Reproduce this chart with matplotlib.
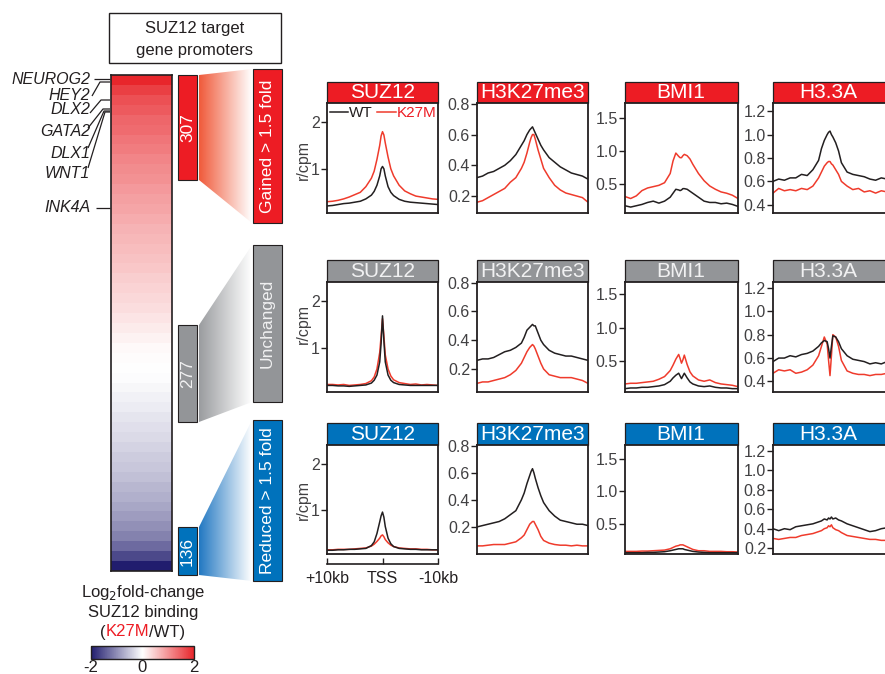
import numpy as np
import matplotlib
matplotlib.use('Agg')
import matplotlib.pyplot as plt
from matplotlib.colors import LinearSegmentedColormap, to_rgb
from matplotlib.patches import Rectangle, Polygon
from matplotlib.ticker import FormatStrFormatter

plt.rcParams['font.family'] = ['Liberation Sans', 'DejaVu Sans']

# ---------------- data ----------------
heat_log2fc = [2.0, 1.75, 1.6, 1.5, 1.4, 1.35, 1.25, 1.2, 1.12, 1.05,
               1.0, 0.93, 0.87, 0.82, 0.76, 0.70, 0.65, 0.60, 0.55, 0.50,
               0.45, 0.40, 0.35, 0.30, 0.24, 0.18, 0.12, 0.06, 0.02, 0.0,
               -0.03, -0.07, -0.12, -0.17, -0.22, -0.27, -0.32, -0.38, -0.44, -0.50,
               -0.56, -0.63, -0.70, -0.78, -0.87, -0.97, -1.1, -1.3, -1.6, -2.0]
genes = ['NEUROG2', 'HEY2', 'DLX2', 'GATA2', 'DLX1', 'WNT1', 'INK4A']
group_labels = ['Gained >1.5 fold', 'Unchanged', 'Reduced >1.5 fold']
group_counts = [307, 277, 136]
factors = ['SUZ12', 'H3K27me3', 'BMI1', 'H3.3A']
series_names = ['WT', 'K27M']

dist_kb = [10, 9, 8, 7, 6, 5, 4, 3, 2, 1.5, 1, 0.5, 0.25, 0, -0.25, -0.5, -1, -1.5, -2,
           -3, -4, -5, -6, -7, -8, -9, -10]

gained_suz12_wt = [0.21,0.22,0.24,0.26,0.27,0.29,0.31,0.36,0.44,0.52,0.65,0.85,1.0,1.05,1.0,0.85,0.62,0.5,0.43,0.35,0.31,0.29,0.28,0.27,0.26,0.25,0.24]
gained_suz12_k27m = [0.30,0.31,0.33,0.36,0.40,0.45,0.50,0.62,0.80,0.95,1.2,1.5,1.7,1.79,1.72,1.55,1.25,1.0,0.85,0.65,0.53,0.47,0.42,0.40,0.38,0.36,0.35]
gained_h3k27me3_wt = [0.32,0.33,0.35,0.36,0.38,0.40,0.43,0.47,0.53,0.56,0.60,0.63,0.64,0.65,0.63,0.61,0.57,0.53,0.50,0.45,0.42,0.39,0.37,0.35,0.34,0.33,0.31]
gained_h3k27me3_k27m = [0.16,0.17,0.19,0.21,0.23,0.25,0.29,0.32,0.38,0.42,0.48,0.55,0.58,0.60,0.60,0.57,0.50,0.44,0.38,0.32,0.27,0.24,0.22,0.21,0.20,0.19,0.16]
gained_bmi1_wt = [0.17,0.15,0.17,0.19,0.22,0.24,0.21,0.24,0.30,0.36,0.42,0.41,0.40,0.41,0.43,0.43,0.42,0.39,0.36,0.30,0.24,0.22,0.22,0.20,0.21,0.19,0.16]
gained_bmi1_k27m = [0.31,0.28,0.32,0.40,0.44,0.46,0.48,0.52,0.66,0.85,0.97,0.92,0.90,0.90,0.93,0.95,0.93,0.88,0.80,0.66,0.55,0.47,0.42,0.38,0.36,0.33,0.28]
gained_h33a_wt = [0.60,0.62,0.61,0.63,0.63,0.66,0.65,0.70,0.78,0.88,0.95,1.0,1.02,1.03,1.0,0.98,0.93,0.86,0.76,0.68,0.66,0.65,0.64,0.62,0.61,0.63,0.62]
gained_h33a_k27m = [0.50,0.54,0.52,0.53,0.52,0.54,0.53,0.56,0.63,0.68,0.73,0.76,0.77,0.77,0.75,0.74,0.70,0.66,0.60,0.56,0.53,0.54,0.51,0.52,0.50,0.52,0.51]

unchanged_suz12_wt = [0.20,0.20,0.19,0.19,0.18,0.19,0.20,0.21,0.25,0.31,0.42,0.70,1.10,1.68,1.15,0.70,0.42,0.31,0.26,0.22,0.21,0.20,0.20,0.20,0.20,0.20,0.20]
unchanged_suz12_k27m = [0.22,0.22,0.21,0.22,0.20,0.21,0.22,0.24,0.30,0.38,0.55,0.90,1.25,1.62,1.25,0.85,0.55,0.40,0.32,0.26,0.24,0.22,0.23,0.21,0.22,0.21,0.20]
unchanged_h3k27me3_wt = [0.26,0.27,0.27,0.28,0.30,0.32,0.33,0.35,0.38,0.42,0.47,0.49,0.50,0.51,0.50,0.50,0.45,0.40,0.37,0.33,0.31,0.30,0.29,0.29,0.28,0.27,0.26]
unchanged_h3k27me3_k27m = [0.10,0.11,0.11,0.12,0.13,0.14,0.16,0.19,0.24,0.28,0.32,0.35,0.36,0.37,0.36,0.34,0.29,0.24,0.20,0.16,0.15,0.14,0.14,0.14,0.13,0.12,0.10]
unchanged_bmi1_wt = [0.09,0.10,0.10,0.11,0.11,0.12,0.13,0.15,0.20,0.25,0.29,0.32,0.28,0.24,0.28,0.32,0.25,0.19,0.16,0.13,0.12,0.13,0.11,0.10,0.10,0.09,0.09]
unchanged_bmi1_k27m = [0.16,0.17,0.17,0.18,0.19,0.20,0.23,0.27,0.36,0.44,0.53,0.60,0.54,0.47,0.52,0.59,0.45,0.34,0.28,0.22,0.20,0.22,0.18,0.16,0.15,0.14,0.12]
unchanged_h33a_wt = [0.57,0.60,0.60,0.62,0.61,0.63,0.64,0.66,0.70,0.73,0.75,0.74,0.68,0.60,0.70,0.79,0.78,0.74,0.68,0.62,0.59,0.58,0.57,0.55,0.56,0.55,0.57]
unchanged_h33a_k27m = [0.47,0.50,0.49,0.50,0.47,0.48,0.50,0.54,0.62,0.70,0.78,0.72,0.58,0.45,0.62,0.80,0.78,0.70,0.58,0.49,0.47,0.46,0.46,0.45,0.46,0.46,0.47]

reduced_suz12_wt = [0.14,0.14,0.15,0.15,0.16,0.16,0.17,0.18,0.24,0.32,0.50,0.75,0.88,0.96,0.85,0.65,0.40,0.28,0.22,0.18,0.17,0.16,0.16,0.15,0.15,0.15,0.15]
reduced_suz12_k27m = [0.15,0.15,0.16,0.16,0.16,0.17,0.18,0.19,0.23,0.27,0.33,0.40,0.45,0.47,0.43,0.37,0.30,0.25,0.22,0.19,0.18,0.17,0.17,0.16,0.16,0.15,0.15]
reduced_h3k27me3_wt = [0.20,0.21,0.22,0.23,0.24,0.26,0.29,0.32,0.40,0.45,0.52,0.58,0.61,0.63,0.60,0.56,0.49,0.43,0.38,0.32,0.28,0.25,0.24,0.23,0.22,0.22,0.21]
reduced_h3k27me3_k27m = [0.06,0.06,0.065,0.07,0.07,0.07,0.08,0.09,0.12,0.14,0.18,0.22,0.23,0.24,0.24,0.22,0.18,0.13,0.10,0.08,0.07,0.065,0.065,0.06,0.065,0.06,0.06]
reduced_bmi1_wt = [0.06,0.06,0.06,0.06,0.065,0.065,0.07,0.075,0.09,0.10,0.11,0.12,0.12,0.12,0.12,0.11,0.10,0.09,0.08,0.07,0.065,0.06,0.06,0.06,0.06,0.06,0.06]
reduced_bmi1_k27m = [0.08,0.08,0.08,0.085,0.085,0.09,0.095,0.10,0.12,0.14,0.16,0.17,0.18,0.18,0.18,0.17,0.15,0.13,0.11,0.09,0.09,0.08,0.08,0.08,0.075,0.075,0.07]
reduced_h33a_wt = [0.40,0.38,0.40,0.39,0.42,0.43,0.44,0.45,0.47,0.48,0.50,0.49,0.51,0.50,0.52,0.50,0.51,0.49,0.48,0.45,0.43,0.41,0.39,0.37,0.38,0.40,0.41]
reduced_h33a_k27m = [0.30,0.29,0.30,0.31,0.31,0.33,0.34,0.35,0.37,0.38,0.40,0.41,0.43,0.42,0.44,0.41,0.39,0.38,0.36,0.33,0.32,0.31,0.30,0.29,0.29,0.28,0.28]

profiles = [
    [(gained_suz12_wt, gained_suz12_k27m), (gained_h3k27me3_wt, gained_h3k27me3_k27m),
     (gained_bmi1_wt, gained_bmi1_k27m), (gained_h33a_wt, gained_h33a_k27m)],
    [(unchanged_suz12_wt, unchanged_suz12_k27m), (unchanged_h3k27me3_wt, unchanged_h3k27me3_k27m),
     (unchanged_bmi1_wt, unchanged_bmi1_k27m), (unchanged_h33a_wt, unchanged_h33a_k27m)],
    [(reduced_suz12_wt, reduced_suz12_k27m), (reduced_h3k27me3_wt, reduced_h3k27me3_k27m),
     (reduced_bmi1_wt, reduced_bmi1_k27m), (reduced_h33a_wt, reduced_h33a_k27m)],
]

# ---------------- styling / layout ----------------
W, H = 885, 674
INK = '#231f20'
TXT = '#414042'
RED = '#ed1c24'
GREY = '#939598'
BLUE = '#0072bc'
group_colors = [RED, GREY, BLUE]
grad_colors = ['#f05a3a', '#9a9c9f', '#2278c2']
header_text_colors = ['white', '#f1f1f2', 'white']
LINE_WT = '#231f20'
LINE_K27M = '#ef3b2c'

cmap = LinearSegmentedColormap.from_list('fc', ['#211d6e', '#ffffff', '#e8262b'])

fig = plt.figure(figsize=(W / 100, H / 100), dpi=100)
bg = fig.add_axes([0, 0, 1, 1])
bg.axis('off')


def px_axes(x0, y0, x1, y1):
    return fig.add_axes([x0 / W, 1 - y1 / H, (x1 - x0) / W, (y1 - y0) / H])


# title box
bg.add_patch(Rectangle((109, 13), 172, 50, fill=False, ec=INK, lw=1))
bg.text(195, 28, 'SUZ12 target', ha='center', va='center', fontsize=12, color=INK)
bg.text(195, 50, 'gene promoters', ha='center', va='center', fontsize=12, color=INK)

# heatmap
hax = px_axes(111, 75, 172, 571)
hax.imshow(np.array(heat_log2fc)[:, None], aspect='auto', cmap=cmap, vmin=-2, vmax=2,
           interpolation='nearest')
hax.set_xticks([])
hax.set_yticks([])
for s in hax.spines.values():
    s.set_color(INK)
    s.set_linewidth(1.2)

# gene labels with leader lines
gene_y = [79, 95, 110, 132, 154, 174, 208]
leaders = [
    [(94, 79), (110, 79)],
    [(92, 96), (100, 82), (110, 82)],
    [(90, 113), (101, 100), (110, 100)],
    [(88, 128), (103, 109), (110, 109)],
    [(88, 148), (104, 111), (110, 111)],
    [(88, 168), (105, 112), (110, 112)],
    [(96, 208), (110, 208)],
]
for g, y, pts in zip(genes, gene_y, leaders):
    bg.text(90, y, g, ha='right', va='center', fontsize=11.5, style='italic', color=INK)
    xs, ys = zip(*pts)
    bg.plot(xs, ys, color=INK, lw=0.9, solid_capstyle='butt')

# group count boxes, gradient connectors and group label boxes
small_y = [(75, 180), (325, 422), (527, 575)]
big_y = [(69, 223), (245, 402), (420, 581)]
for i in range(3):
    y0, y1 = small_y[i]
    bg.add_patch(Rectangle((178, y0), 19, y1 - y0, fc=group_colors[i], ec=INK, lw=0.8, zorder=3))
    bg.text(187.5, (y0 + y1) / 2, str(group_counts[i]), rotation=90, ha='center', va='center',
            fontsize=12.5, color=header_text_colors[i], zorder=4)
    b0, b1 = big_y[i]
    pts = [(199, y0), (252, b0), (252, b1), (199, y1)]
    poly = Polygon(pts, closed=True, fc='none', ec='none')
    bg.add_patch(poly)
    rgb = np.array(to_rgb(grad_colors[i]))
    t = np.linspace(0, 1, 200)[:, None]
    arr = ((1 - t) * rgb + t * np.ones(3))[None, :, :]
    im = bg.imshow(arr, extent=(199, 252, max(y1, b1), min(y0, b0)), aspect='auto',
                   interpolation='bilinear', zorder=1)
    im.set_clip_path(poly)
    bg.add_patch(Rectangle((253, b0), 29, b1 - b0, fc=group_colors[i], ec=INK, lw=0.8, zorder=3))
    bg.text(267.5, (b0 + b1) / 2, group_labels[i].replace('>', '> '), rotation=90, ha='center',
            va='center', fontsize=12.5, color=header_text_colors[i], zorder=4)

# bottom-left legend text
bg.text(143, 592, 'Log$_2$fold-change', ha='center', va='center', fontsize=12, color=INK)
bg.text(143, 612, 'SUZ12 binding', ha='center', va='center', fontsize=12, color=INK)
t1 = bg.text(100, 632, '(', ha='left', va='center', fontsize=12, color=INK)
t2 = bg.annotate('K27M', xy=(1, 0), xycoords=t1, va='bottom', ha='left', fontsize=12, color=RED)
bg.annotate('/WT)', xy=(1, 0), xycoords=t2, va='bottom', ha='left', fontsize=12, color=INK)

# colorbar
cax = px_axes(91, 646, 194, 659)
sm = plt.cm.ScalarMappable(cmap=cmap, norm=plt.Normalize(-2, 2))
cb = fig.colorbar(sm, cax=cax, orientation='horizontal', ticks=[-2, 0, 2])
cb.ax.set_xticklabels(['-2', '0', '2'])
cb.ax.tick_params(length=0, labelsize=12, pad=1, labelcolor=INK)
cb.outline.set_linewidth(1)
cb.outline.set_edgecolor(INK)

# ---------------- profile panels ----------------
col_x = [327, 477, 625, 773]
col_w = [111, 111, 113, 114]
row_hdr = [(82, 103), (260, 282), (423, 445)]
row_plot = [(103, 213), (282, 392), (445, 554)]
ylims = [
    [(0.06, 2.4), (0.09, 0.805), (0.06, 1.73), (0.33, 1.27)],
    [(0.06, 2.4), (0.04, 0.805), (0.04, 1.68), (0.31, 1.25)],
    [(0.06, 2.4), (0.0, 0.805), (0.04, 1.71), (0.14, 1.26)],
]
yticks = [
    [[1, 2], [0.2, 0.4, 0.6, 0.8], [0.5, 1.0, 1.5], [0.4, 0.6, 0.8, 1.0, 1.2]],
    [[1, 2], [0.2, 0.4, 0.6, 0.8], [0.5, 1.0, 1.5], [0.4, 0.6, 0.8, 1.0, 1.2]],
    [[1, 2], [0.2, 0.4, 0.6, 0.8], [0.5, 1.0, 1.5], [0.2, 0.4, 0.6, 0.8, 1.0, 1.2]],
]
ylab_y = [160, 324, 500]

for r in range(3):
    p0, p1 = row_plot[r]
    h0, h1 = row_hdr[r]
    for c in range(4):
        x0 = col_x[c]
        x1 = x0 + col_w[c]
        ax = px_axes(x0, p0, x1, p1)
        wt, k27 = profiles[r][c]
        l_wt, = ax.plot(dist_kb, wt, color=LINE_WT, lw=1.1, zorder=3)
        l_k, = ax.plot(dist_kb, k27, color=LINE_K27M, lw=1.1, zorder=2)
        ax.set_xlim(10, -10)
        ax.set_ylim(*ylims[r][c])
        ax.set_xticks([])
        ax.set_yticks(yticks[r][c])
        ax.yaxis.set_major_formatter(FormatStrFormatter('%d' if c == 0 else '%.1f'))
        ax.tick_params(axis='y', direction='out', length=4, width=1, color=INK,
                       labelsize=11.5, labelcolor=TXT, pad=1)
        for s in ax.spines.values():
            s.set_color(INK)
            s.set_linewidth(1.3)
        if r == 0 and c == 0:
            ax.legend([l_wt, l_k], series_names, loc='upper left', ncol=2, frameon=False,
                      fontsize=11, handlelength=1.2, handletextpad=0.05, columnspacing=0.3,
                      borderaxespad=0.1, borderpad=0.1, labelcolor=[INK, RED])
        # header strip
        bg.add_patch(Rectangle((x0, h0), x1 - x0, h1 - h0, fc=group_colors[r], ec=INK,
                               lw=0.9, zorder=3))
        bg.text(x0 + 55.5, (h0 + h1) / 2 + 0.5,
                factors[c], ha='center', va='center', fontsize=15,
                color=header_text_colors[r], zorder=4)
        if c == 0 and r == 2:
            sec = ax.secondary_xaxis(-10 / 109)
            sec.set_xticks([10, 0, -10])
            sec.set_xticklabels(['+10kb', 'TSS', '-10kb'])
            sec.tick_params(direction='in', length=4, width=1, color=INK, labelsize=11.5,
                            labelcolor=INK, pad=5)
            sec.spines['bottom'].set_color(INK)
            sec.spines['bottom'].set_linewidth(1.2)
    bg.text(303, ylab_y[r], 'r/cpm', rotation=90, ha='center', va='center', fontsize=11.5,
            color=TXT)

bg.set_xlim(0, W)
bg.set_ylim(H, 0)

fig.savefig('out.png', dpi=100)
